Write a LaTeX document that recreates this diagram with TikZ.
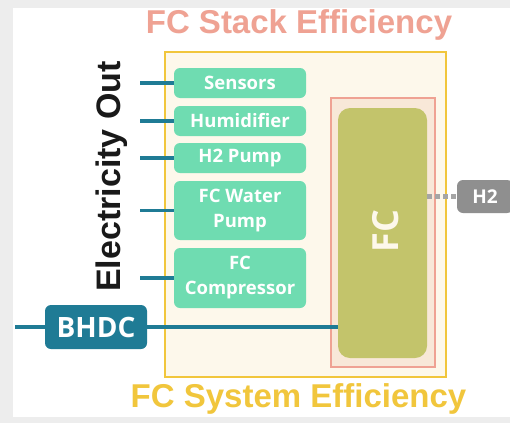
\documentclass[tikz,border=0pt]{standalone}
\usepackage{fontspec}
\setmainfont{Liberation Sans}
\newfontfamily\opensans{Open Sans}

\definecolor{mint}{HTML}{6FDCB1}
\definecolor{petrol}{HTML}{1F7B95}
\definecolor{cream}{HTML}{FDF8EB}
\definecolor{gold}{HTML}{F1C63C}
\definecolor{peach}{HTML}{F8E8D8}
\definecolor{salmon}{HTML}{EFA293}
\definecolor{olive}{HTML}{C3C46B}
\definecolor{stone}{HTML}{8F8F8F}

\tikzset{
  aux/.style = {fill=mint, rounded corners=6pt, text=white, inner sep=0pt,
    minimum width=132pt, align=center,
    font=\opensans\bfseries\fontsize{18.5}{25}\selectfont},
  tag/.style = {rounded corners=6pt, text=white, inner sep=0pt,
    font=\opensans\bfseries},
  wire/.style = {draw=petrol, line width=3.5pt},
  title/.style = {anchor=base, font=\bfseries\fontsize{33}{36}\selectfont}
}

\begin{document}
\begin{tikzpicture}[x=1pt, y=-1pt]
  \useasboundingbox (0,0) rectangle (510,423);
  \fill[black!7] (0,0) rectangle (510,423);
  \fill[white] (13,8) rectangle (510,417);

  % Frames
  \draw[gold, fill=cream, line width=2.5pt] (165,52) rectangle (446,377);
  \draw[salmon, fill=peach, line width=2pt] (331,98) rectangle (435,367);
  \node[title, text=salmon] (stack) at (299,33) {FC Stack Efficiency};
  \node[title, text=gold] (system) at (298.5,407) {FC System Efficiency};
  \node[anchor=base, rotate=90, font=\bfseries\fontsize{34}{36}\selectfont,
    text=black!90] (elec) at (120,176.5) {Electricity Out};

  % Components
  \node[aux, minimum height=30pt] (sensors) at (240,83) {Sensors};
  \node[aux, minimum height=30pt] (humid) at (240,121) {Humidifier};
  \node[aux, minimum height=30pt] (pump) at (240,158) {H2 Pump};
  \node[aux, minimum height=59pt] (water) at (240,210.5) {FC Water\\Pump};
  \node[aux, minimum height=60pt] (comp) at (240,278) {FC\\Compressor};
  \node[fill=olive, rounded corners=12pt, minimum width=89pt,
    minimum height=250pt, inner sep=0pt] (fc) at (382.5,233) {};
  \node[anchor=base, rotate=90, text=cream,
    font=\opensans\bfseries\fontsize{36}{40}\selectfont] (fctext) at (398,231) {FC};
  \node[tag, fill=petrol, minimum width=102pt, minimum height=44pt,
    font=\opensans\bfseries\fontsize{28}{30}\selectfont] (bhdc) at (96,327) {BHDC};
  \node[tag, fill=stone, minimum width=56pt, minimum height=33pt,
    font=\opensans\bfseries\fontsize{19}{22}\selectfont] (h2) at (485,196.5) {H2};

  % Connectors
  \coordinate (s1) at (140,83);
  \coordinate (s2) at (140,121);
  \coordinate (s3) at (140,158);
  \coordinate (s4) at (140,210.5);
  \coordinate (s5) at (140,278);
  \coordinate (grid) at (15,327);
  \draw[wire] (s1) -- (sensors.west);
  \draw[wire] (s2) -- (humid.west);
  \draw[wire] (s3) -- (pump.west);
  \draw[wire] (s4) -- (water.west);
  \draw[wire] (s5) -- (comp.west);
  \draw[wire, line width=4.5pt] (grid) -- (bhdc.west);
  \draw[wire, line width=4.5pt] (bhdc.east) -- (bhdc.east -| fc.west);
  \draw[stone!80, line width=5pt, dash pattern=on 5pt off 3pt]
    (fc.east |- h2.west) -- (h2.west);
\end{tikzpicture}
\end{document}
